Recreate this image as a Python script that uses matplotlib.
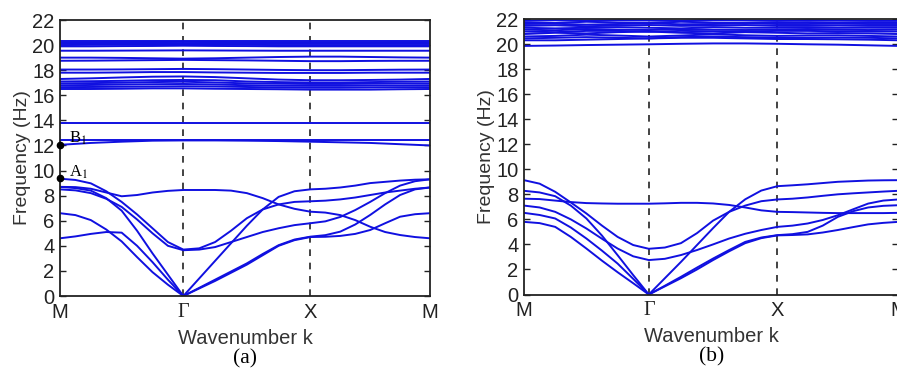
import numpy as np
import matplotlib
matplotlib.use("Agg")
import matplotlib.pyplot as plt

plt.rcParams['font.family'] = ['Liberation Sans', 'DejaVu Sans']

# symmetry points M - Gamma - X - M
sym_labels = ['M', r'Γ', 'X', 'M']
sym_pos = [0.0, 1.0, 2.03, 3.0]


def path_x(pos, n):
    # n steps per segment along M-G-X-M
    return np.concatenate([np.linspace(pos[0], pos[1], n + 1),
                           np.linspace(pos[1], pos[2], n + 1)[1:],
                           np.linspace(pos[2], pos[3], n + 1)[1:]])

# ---- panel (a) ----
# low bands: 8 steps per segment (25 samples)
a_low = [
    [9.35, 9.25, 8.98, 8.35, 7.5, 6.5, 5.4, 4.3, 3.7,
     3.8, 4.3, 5.2, 6.2, 6.9, 7.3, 7.5, 7.55,
     7.6, 7.7, 7.85, 8.05, 8.25, 8.4, 8.55, 8.65],
    [8.7, 8.68, 8.55, 8.25, 7.95, 8.05, 8.25, 8.38, 8.45,
     8.45, 8.45, 8.4, 8.2, 7.8, 7.3, 6.95, 6.72,
     6.65, 6.45, 6.05, 5.52, 5.1, 4.86, 4.7, 4.6],
    [8.7, 8.6, 8.4, 7.8, 6.8, 5.2, 3.4, 1.7, 0.0,
     1.4, 2.8, 4.2, 5.6, 6.9, 7.9, 8.35, 8.5,
     8.55, 8.65, 8.8, 9.0, 9.1, 9.2, 9.27, 9.3],
    [8.5, 8.42, 8.2, 7.75, 7.1, 6.1, 5.0, 4.0, 3.65,
     3.7, 3.9, 4.3, 4.7, 5.1, 5.4, 5.65, 5.8,
     5.95, 6.3, 6.85, 7.5, 8.2, 8.8, 9.15, 9.3],
    [6.6, 6.45, 6.05, 5.3, 4.35, 3.1, 1.9, 0.9, 0.0,
     0.65, 1.3, 1.95, 2.6, 3.35, 4.05, 4.5, 4.73,
     4.85, 5.13, 5.7, 6.46, 7.3, 8.05, 8.5, 8.65],
    [4.6, 4.75, 4.95, 5.1, 5.05, 4.0, 2.7, 1.3, 0.0,
     0.6, 1.2, 1.85, 2.5, 3.25, 4.0, 4.45, 4.7,
     4.72, 4.79, 4.95, 5.26, 5.8, 6.32, 6.52, 6.6],
]
# high bands: 4 steps per segment (13 samples)
a_high = [
    [12.05, 12.2, 12.3, 12.38, 12.4, 12.4, 12.38, 12.35, 12.3, 12.25, 12.2, 12.1, 12.0],
    [12.42, 12.42, 12.42, 12.42, 12.42, 12.42, 12.42, 12.42, 12.42, 12.42, 12.42, 12.42, 12.42],
    [13.78, 13.78, 13.78, 13.78, 13.78, 13.78, 13.78, 13.78, 13.78, 13.78, 13.78, 13.78, 13.78],
    [16.5, 16.5, 16.52, 16.55, 16.55, 16.52, 16.5, 16.48, 16.45, 16.45, 16.45, 16.48, 16.5],
    [16.65, 16.66, 16.68, 16.7, 16.72, 16.7, 16.66, 16.62, 16.6, 16.6, 16.62, 16.64, 16.65],
    [16.8, 16.82, 16.85, 16.88, 16.9, 16.86, 16.8, 16.76, 16.75, 16.75, 16.77, 16.78, 16.8],
    [16.95, 16.97, 17.0, 17.05, 17.08, 17.02, 16.95, 16.92, 16.9, 16.9, 16.92, 16.94, 16.95],
    [17.1, 17.12, 17.15, 17.2, 17.22, 17.2, 17.1, 17.05, 17.02, 17.02, 17.05, 17.08, 17.1],
    [17.3, 17.35, 17.42, 17.48, 17.5, 17.45, 17.35, 17.25, 17.2, 17.2, 17.22, 17.25, 17.3],
    [17.8, 17.8, 17.82, 17.85, 17.85, 17.82, 17.8, 17.78, 17.78, 17.78, 17.8, 17.8, 17.8],
    [18.05, 18.05, 18.06, 18.08, 18.1, 18.08, 18.05, 18.02, 18.0, 18.0, 18.02, 18.04, 18.05],
    [18.75, 18.76, 18.78, 18.8, 18.82, 18.8, 18.78, 18.75, 18.72, 18.72, 18.74, 18.75, 18.75],
    [19.0, 19.0, 18.98, 18.95, 18.92, 18.95, 19.0, 19.05, 19.08, 19.08, 19.05, 19.02, 19.0],
    [19.55, 19.55, 19.56, 19.57, 19.58, 19.57, 19.56, 19.55, 19.55, 19.55, 19.55, 19.55, 19.55],
    [19.9, 19.9, 19.92, 19.93, 19.95, 19.93, 19.92, 19.9, 19.9, 19.9, 19.9, 19.9, 19.9],
    [20.0, 20.02, 20.03, 20.05, 20.05, 20.04, 20.02, 20.0, 20.0, 20.0, 20.0, 20.0, 20.0],
    [20.1, 20.1, 20.12, 20.14, 20.15, 20.14, 20.12, 20.1, 20.1, 20.1, 20.1, 20.1, 20.1],
    [20.22, 20.22, 20.23, 20.24, 20.25, 20.24, 20.23, 20.22, 20.2, 20.2, 20.2, 20.22, 20.22],
    [20.35, 20.35, 20.35, 20.35, 20.35, 20.35, 20.35, 20.35, 20.35, 20.35, 20.35, 20.35, 20.35],
]
point_a1 = 9.4
point_b1 = 12.05

# ---- panel (b) ----
b_low = [
    [9.13, 8.85, 8.2, 7.35, 6.47, 5.5, 4.6, 3.95, 3.65,
     3.75, 4.1, 4.9, 5.9, 6.6, 7.1, 7.45, 7.59,
     7.65, 7.75, 7.88, 8.0, 8.08, 8.15, 8.22, 8.28],
    [8.28, 8.15, 7.85, 7.1, 6.07, 4.7, 3.14, 1.55, 0.0,
     1.3, 2.6, 3.95, 5.3, 6.6, 7.6, 8.3, 8.65,
     8.72, 8.8, 8.9, 9.0, 9.05, 9.1, 9.12, 9.13],
    [7.65, 7.62, 7.5, 7.38, 7.3, 7.27, 7.25, 7.25, 7.25,
     7.28, 7.32, 7.32, 7.27, 7.15, 6.95, 6.72, 6.6,
     6.58, 6.55, 6.52, 6.5, 6.5, 6.5, 6.5, 6.52],
    [7.1, 6.95, 6.6, 6.0, 5.27, 4.45, 3.67, 3.05, 2.75,
     2.85, 3.15, 3.55, 4.0, 4.47, 4.85, 5.15, 5.4,
     5.5, 5.67, 5.95, 6.33, 6.8, 7.26, 7.5, 7.59],
    [6.52, 6.35, 6.07, 5.35, 4.47, 3.5, 2.47, 1.25, 0.0,
     0.7, 1.41, 2.15, 2.87, 3.55, 4.2, 4.55, 4.74,
     4.82, 5.0, 5.5, 6.2, 6.65, 6.95, 7.08, 7.13],
    [5.8, 5.7, 5.4, 4.6, 3.67, 2.7, 1.78, 0.9, 0.0,
     0.65, 1.3, 2.0, 2.75, 3.45, 4.1, 4.5, 4.72,
     4.75, 4.8, 4.95, 5.15, 5.38, 5.6, 5.72, 5.8],
]
b_high = [
    [19.85, 19.88, 19.92, 19.95, 19.98, 20.02, 20.05, 20.05, 20.02, 19.98, 19.95, 19.9, 19.85],
    [20.3, 20.3, 20.35, 20.4, 20.45, 20.5, 20.5, 20.45, 20.4, 20.4, 20.38, 20.35, 20.3],
    [20.45, 20.5, 20.55, 20.5, 20.45, 20.55, 20.6, 20.55, 20.5, 20.5, 20.52, 20.5, 20.45],
    [20.6, 20.65, 20.75, 20.68, 20.6, 20.68, 20.78, 20.7, 20.65, 20.68, 20.7, 20.65, 20.6],
    [20.8, 20.9, 20.85, 20.95, 21.0, 20.9, 20.85, 20.95, 20.9, 20.85, 20.88, 20.85, 20.8],
    [21.0, 20.95, 21.05, 21.05, 20.98, 21.05, 21.02, 21.0, 21.05, 21.05, 21.02, 21.0, 21.0],
    [21.15, 21.1, 21.2, 21.15, 21.12, 21.2, 21.15, 21.12, 21.15, 21.2, 21.15, 21.12, 21.15],
    [21.3, 21.25, 21.3, 21.35, 21.3, 21.25, 21.35, 21.3, 21.3, 21.32, 21.3, 21.3, 21.3],
    [21.45, 21.5, 21.42, 21.48, 21.52, 21.45, 21.48, 21.52, 21.45, 21.45, 21.48, 21.45, 21.45],
    [21.6, 21.62, 21.55, 21.6, 21.65, 21.58, 21.6, 21.65, 21.6, 21.6, 21.62, 21.6, 21.6],
    [21.72, 21.68, 21.78, 21.72, 21.68, 21.78, 21.72, 21.68, 21.72, 21.75, 21.72, 21.72, 21.72],
    [21.85, 21.9, 21.85, 21.9, 21.88, 21.85, 21.92, 21.88, 21.85, 21.9, 21.88, 21.85, 21.85],
]

yticks = np.arange(0, 23, 2)
line_color = '#1010e0'

fig = plt.figure(figsize=(8.97, 3.74), dpi=100)
ax_a = fig.add_axes([60 / 897, 1 - 296 / 374, 370 / 897, 276 / 374])
ax_b = fig.add_axes([524 / 897, 1 - 294.5 / 374, 374.4 / 897, 275.5 / 374])


def draw_panel(ax, low, high, letter):
    for band in low:
        ax.plot(path_x(sym_pos, 8), band, color=line_color, lw=1.4, solid_capstyle='round')
    for band in high:
        ax.plot(path_x(sym_pos, 4), band, color=line_color, lw=1.4, solid_capstyle='round')
    for p in sym_pos[1:3]:
        ax.axvline(p, color='#222222', lw=1.2, ls=(0, (4, 4)), zorder=0)
    ax.set_xlim(sym_pos[0], sym_pos[-1])
    ax.set_ylim(0, 22)
    ax.set_yticks(yticks)
    ax.set_xticks(sym_pos)
    ax.set_xticklabels(sym_labels)
    ax.get_xticklabels()[1].set_family(['Liberation Serif', 'DejaVu Serif'])
    ax.tick_params(direction='in', length=4, width=1, labelsize=14.5,
                   right=True, top=False, colors='#222222', pad=4)
    ax.tick_params(axis='x', length=0, pad=5)
    for s in ax.spines.values():
        s.set_linewidth(1.3)
        s.set_color('#222222')
    ax.set_ylabel('Frequency (Hz)', fontsize=14, color='#333333', labelpad=1)
    ax.set_xlabel('Wavenumber k', fontsize=14.5, color='#333333', labelpad=5)
    ax.text(0.5, -0.228, letter, transform=ax.transAxes, ha='center', va='center',
            fontsize=15.5, family=['Liberation Serif', 'DejaVu Serif'])


draw_panel(ax_a, a_low, a_high, '(a)')
draw_panel(ax_b, b_low, b_high, '(b)')

# marked points on panel (a)
ax_a.plot([0, 0], [point_a1, point_b1], 'o', color='black', ms=4.5, clip_on=False, zorder=5)
ax_a.text(0.07, point_a1 + 0.5, r'A$_1$', fontsize=12, family=['Liberation Serif', 'DejaVu Serif'],
          va='center', math_fontfamily='stix')
ax_a.text(0.07, point_b1 + 0.55, r'B$_1$', fontsize=12, family=['Liberation Serif', 'DejaVu Serif'],
          va='center', math_fontfamily='stix')

fig.savefig('out.png', dpi=100)
